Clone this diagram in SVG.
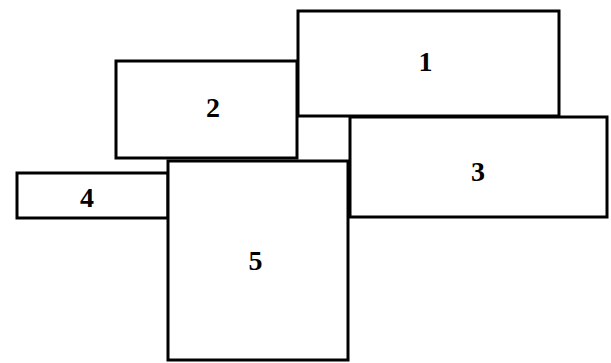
<svg xmlns="http://www.w3.org/2000/svg" width="611" height="363" viewBox="0 0 611 363">
<style>
rect{fill:#fff;stroke:#000;stroke-width:3}
text{font-family:"Liberation Serif","DejaVu Serif",serif;font-size:28px;font-weight:bold;text-anchor:middle;fill:#000}
</style>
<rect x="0" y="0" width="611" height="363" style="stroke:none"/>
<g id="node1"><rect x="298" y="11" width="261" height="105"/><text x="425.5" y="71">1</text></g>
<g id="node2"><rect x="116" y="61" width="181" height="97"/><text x="213" y="117">2</text></g>
<g id="node3"><rect x="350" y="117" width="257" height="100"/><text x="478" y="181">3</text></g>
<g id="node4"><rect x="17" y="173" width="151" height="45"/><text x="87" y="207">4</text></g>
<g id="node5"><rect x="168" y="161" width="180" height="199"/><text x="255.5" y="270">5</text></g>
<g id="connectors"></g>
</svg>
